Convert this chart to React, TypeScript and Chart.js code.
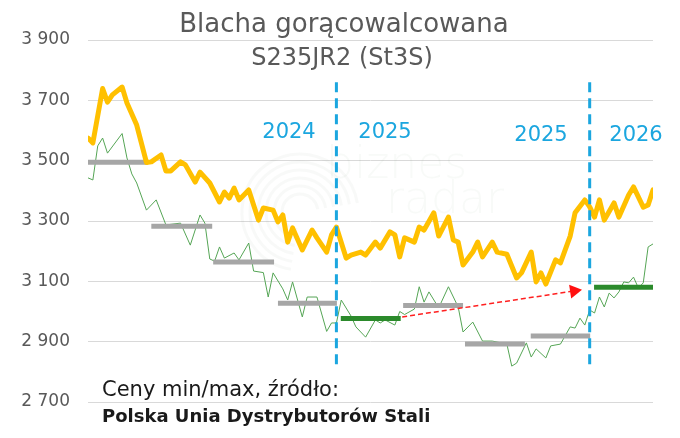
import React, { useEffect, useRef } from 'react';
import { Chart, registerables } from 'chart.js';

Chart.register(...registerables);

// weeks counted from the first quote; values in PLN/t
const yTicks = [2700, 2900, 3100, 3300, 3500, 3700, 3900];

const maxWeeks = [0, 1, 3, 4, 5, 7, 8, 10, 12, 13, 15, 16, 17, 19, 20, 22, 23, 25, 27, 28, 29, 30, 31, 33, 35, 36, 38, 39, 40, 41, 42, 44, 46, 47, 49, 50, 51, 53, 54, 56, 57, 59, 60, 62, 63, 64, 65, 67, 68, 69, 71, 72, 74, 75, 76, 77, 79, 80, 81, 83, 84, 86, 88, 89, 91, 92, 93, 94, 96, 97, 99, 100, 102, 103, 104, 105, 106, 108, 109, 111, 112, 114, 115, 116];
const maxPrices = [3575, 3559, 3739, 3694, 3718, 3744, 3691, 3618, 3494, 3496, 3519, 3466, 3466, 3496, 3486, 3429, 3462, 3426, 3363, 3396, 3376, 3409, 3370, 3403, 3303, 3343, 3336, 3297, 3320, 3230, 3277, 3204, 3270, 3244, 3197, 3254, 3280, 3177, 3187, 3197, 3187, 3230, 3210, 3264, 3254, 3181, 3244, 3230, 3280, 3270, 3327, 3250, 3313, 3237, 3230, 3154, 3197, 3230, 3181, 3230, 3197, 3190, 3111, 3128, 3197, 3098, 3128, 3091, 3171, 3161, 3250, 3327, 3370, 3347, 3313, 3370, 3303, 3360, 3313, 3386, 3413, 3346, 3353, 3403];

const minWeeks = [0, 1, 2, 3, 4, 7, 8, 9, 10, 12, 14, 16, 19, 21, 23, 24, 25, 26, 27, 28, 30, 31, 33, 34, 36, 37, 38, 40, 41, 42, 44, 45, 47, 49, 50, 51, 52, 54, 55, 56, 57, 59, 60, 61, 63, 64, 65, 67, 68, 69, 70, 72, 74, 76, 77, 79, 81, 83, 86, 87, 88, 90, 91, 92, 94, 95, 97, 99, 100, 101, 102, 103, 104, 105, 106, 107, 108, 109, 110, 111, 112, 113, 114, 115, 116];
const minPrices = [3443, 3436, 3549, 3575, 3525, 3590, 3509, 3456, 3426, 3336, 3370, 3287, 3293, 3220, 3320, 3293, 3174, 3167, 3214, 3177, 3194, 3171, 3227, 3134, 3129, 3048, 3128, 3075, 3038, 3098, 2982, 3048, 3048, 2934, 2962, 2962, 3038, 2985, 2949, 2932, 2915, 2972, 2962, 2972, 2955, 3000, 2990, 3008, 3082, 3031, 3065, 3012, 3082, 3015, 2932, 2965, 2902, 2902, 2892, 2819, 2829, 2896, 2849, 2876, 2846, 2886, 2892, 2949, 2945, 2978, 2955, 3005, 2995, 3048, 3015, 3061, 3045, 3065, 3098, 3095, 3114, 3078, 3095, 3214, 3224];

// quarterly average of min prices
const quarterStart = [0, 13, 25.7, 39, 51.9, 64.7, 77.4, 90.9, 103.9];
const quarterEnd = [12.3, 25.5, 38.2, 51.1, 64.2, 77, 89.7, 103.1, 116.2];
const quarterAvg = [3495, 3283, 3164, 3027, 2977, 3020, 2892, 2919, 3080];
const highlightedQuarters = [4, 8];

const yearBreakWeeks = [51, 103];
const yearBreakRange = [2820, 3760];
const yearLabels = ['2024', '2025', '2025', '2026'];

const trendWeeks = [64.5, 99.8];
const trendValues = [2982, 3068];

const FONT = "'DejaVu Sans', sans-serif";

const formatTick = (v: number) => `${Math.floor(v / 1000)} ${String(v % 1000).padStart(3, '0')}`;

const overlayPlugin = {
    id: 'overlay',
    beforeDatasetsDraw(chart: Chart) {
        const ctx = chart.ctx;
        ctx.save();
        // faint watermark
        ctx.strokeStyle = 'rgba(120, 140, 120, 0.05)';
        ctx.lineWidth = 3;
        for (let r = 18; r <= 62; r += 8) {
            ctx.beginPath();
            ctx.arc(300, 212, r, Math.PI * 0.55, Math.PI * 1.95);
            ctx.stroke();
        }
        ctx.fillStyle = 'rgba(120, 150, 120, 0.05)';
        ctx.font = `200 44px ${FONT}`;
        ctx.textBaseline = 'alphabetic';
        ctx.fillText('biznes', 326, 178);
        ctx.fillText('radar', 386, 213);
        ctx.restore();
    },
    afterDraw(chart: Chart) {
        const ctx = chart.ctx;
        ctx.save();
        ctx.textBaseline = 'alphabetic';
        ctx.textAlign = 'center';
        ctx.fillStyle = '#595959';
        ctx.font = `26px ${FONT}`;
        ctx.fillText('Blacha gorącowalcowana', 344, 32);
        ctx.font = `24px ${FONT}`;
        ctx.fillText('S235JR2 (St3S)', 342, 65);

        ctx.fillStyle = '#1ba6df';
        ctx.font = `21px ${FONT}`;
        const yearX = [289, 385, 541, 636];
        const yearY = [138, 138, 141, 141];
        yearLabels.forEach((t, i) => ctx.fillText(t, yearX[i], yearY[i]));

        ctx.textAlign = 'left';
        ctx.fillStyle = '#1a1a1a';
        ctx.font = `21px ${FONT}`;
        ctx.fillText('Ceny min/max, źródło:', 102, 396);
        ctx.font = `bold 18px ${FONT}`;
        ctx.fillText('Polska Unia Dystrybutorów Stali', 102, 422);
        ctx.restore();
    },
};

const App: React.FC = () => {
    const chartRef = useRef<HTMLCanvasElement>(null);
    const chartInstance = useRef<Chart | null>(null);

    useEffect(() => {
        document.body.style.margin = '0';
        if (!chartRef.current) return;
        const ctx = chartRef.current.getContext('2d');
        if (!ctx) return;
        if (chartInstance.current) chartInstance.current.destroy();

        const line = (xs: number[], ys: number[]) => xs.map((x, i) => ({ x, y: ys[i] }));

        const quarterSets = quarterAvg.map((v, i) => {
            const hi = highlightedQuarters.includes(i);
            return {
                label: `q${i}`,
                data: [{ x: quarterStart[i], y: v }, { x: quarterEnd[i], y: v }],
                borderColor: hi ? '#2b8a2b' : '#a6a6a6',
                borderWidth: 5,
                pointRadius: 0,
                order: 3,
            };
        });

        const breakSets = yearBreakWeeks.map((w) => ({
            label: `break${w}`,
            data: [{ x: w, y: yearBreakRange[1] }, { x: w, y: yearBreakRange[0] }],
            borderColor: '#1ba6df',
            borderWidth: 3,
            borderDash: [10, 6],
            pointRadius: 0,
            order: 0,
        }));

        chartInstance.current = new Chart(ctx, {
            type: 'line',
            data: {
                datasets: [
                    ...breakSets,
                    {
                        label: 'trend',
                        data: line(trendWeeks, trendValues),
                        borderColor: '#ff2020',
                        backgroundColor: '#ff1010',
                        borderWidth: 1.5,
                        borderDash: [5, 3],
                        pointRadius: [0, 8],
                        pointStyle: 'triangle',
                        pointRotation: [0, 81.5],
                        pointBorderWidth: 0,
                        order: 1,
                    },
                    {
                        label: 'max',
                        data: line(maxWeeks, maxPrices),
                        borderColor: '#ffc000',
                        borderWidth: 5,
                        borderJoinStyle: 'round',
                        borderCapStyle: 'round',
                        pointRadius: 0,
                        order: 2,
                    },
                    ...quarterSets,
                    {
                        label: 'min',
                        data: line(minWeeks, minPrices),
                        borderColor: '#55a555',
                        borderWidth: 1,
                        pointRadius: 0,
                        order: 4,
                    },
                ] as any,
            },
            options: {
                animation: false,
                responsive: true,
                maintainAspectRatio: false,
                layout: { padding: { left: 0, right: 27, top: 40, bottom: 36 } },
                plugins: {
                    legend: { display: false },
                    tooltip: { enabled: false },
                },
                scales: {
                    x: {
                        type: 'linear',
                        display: false,
                        min: 0,
                        max: 116,
                    },
                    y: {
                        min: 2700,
                        max: 3900,
                        afterFit: (scale: any) => {
                            scale.width = 88;
                        },
                        afterBuildTicks: (scale: any) => {
                            scale.ticks = yTicks.map((value) => ({ value }));
                        },
                        border: { display: false },
                        grid: { color: '#d9d9d9', lineWidth: 1, drawTicks: false },
                        ticks: {
                            padding: 18,
                            color: '#595959',
                            font: { family: FONT, size: 17 },
                            callback: (value) => formatTick(Number(value)),
                        },
                    },
                },
            },
            plugins: [overlayPlugin],
        });

        return () => {
            if (chartInstance.current) {
                chartInstance.current.destroy();
                chartInstance.current = null;
            }
        };
    }, []);

    return (
        <div style={{ position: 'relative', width: 680, height: 438, background: '#fff' }}>
            <canvas ref={chartRef}></canvas>
        </div>
    );
};

export default App;
